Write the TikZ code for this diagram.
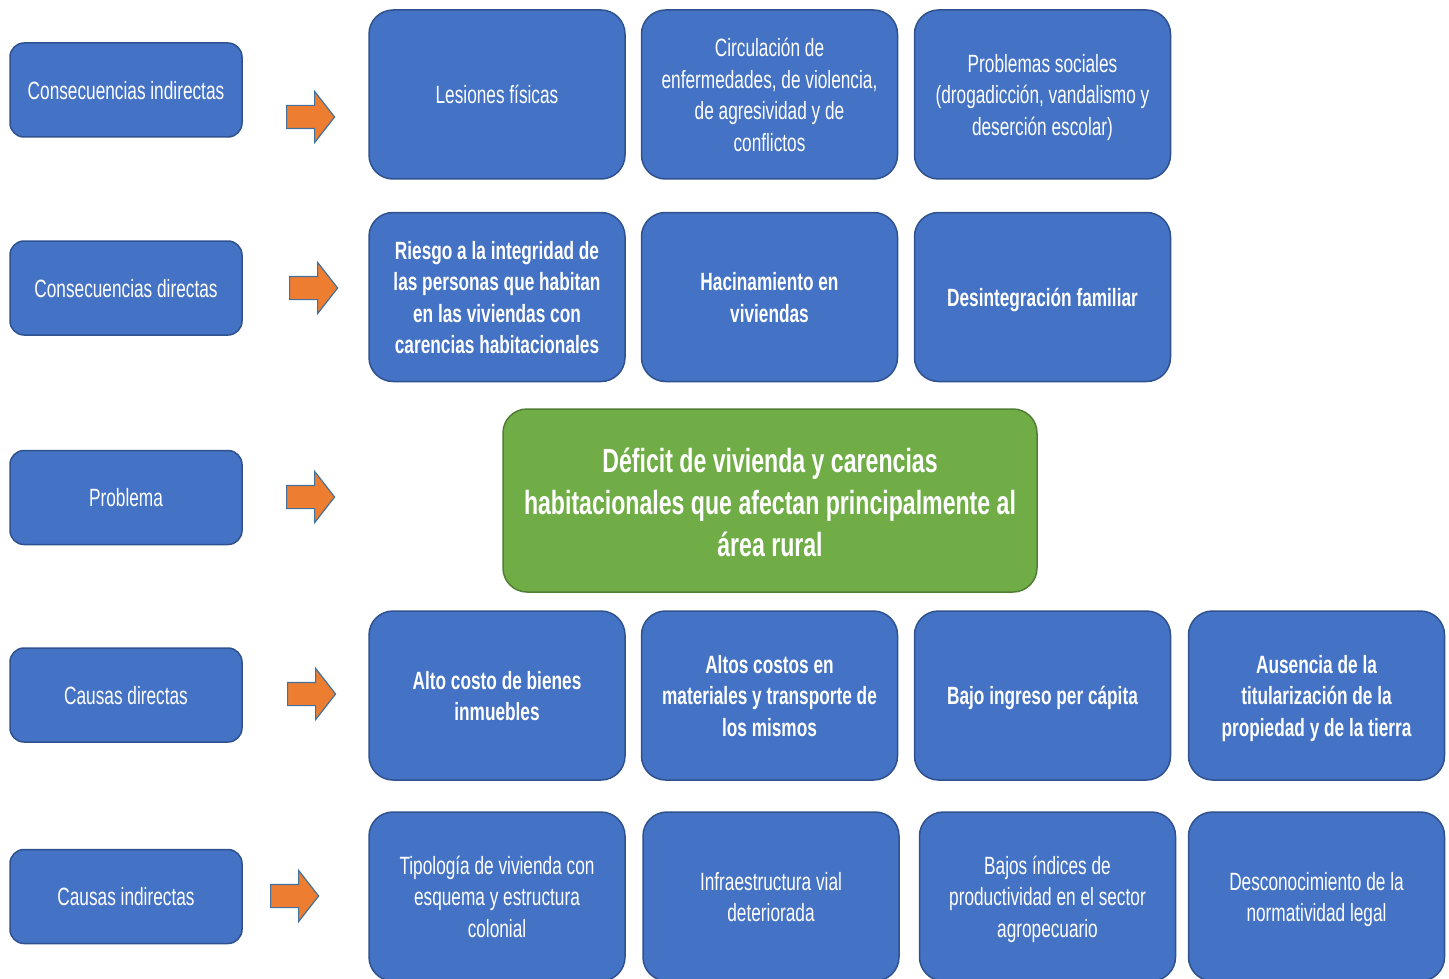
\documentclass[tikz,border=0pt]{standalone}
\usepackage{fontspec}
\setmainfont{Liberation Sans}[FakeStretch=0.69]
\usetikzlibrary{shapes.arrows}
\definecolor{boxblue}{HTML}{4472C4}
\definecolor{boxline}{HTML}{2F528F}
\definecolor{goalgreen}{HTML}{70AD47}
\definecolor{goalline}{HTML}{507E32}
\definecolor{arroworange}{HTML}{ED7D31}
\definecolor{arrowline}{HTML}{41719C}
% centred block of lines, lowered without changing its box
\newcommand\lbl[2][3pt]{\raisebox{-#1}[\height][\depth]{\begin{tabular}{@{}c@{}}#2\end{tabular}}}
\begin{document}
\begin{tikzpicture}[x=1pt,y=-1pt,
  base/.style={rounded corners=24pt, line width=1.5pt, draw=boxline, fill=boxblue, text=white, align=center, inner sep=0pt, font=\fontsize{25}{31.5}\selectfont},
  side/.style={base, rounded corners=14pt, minimum width=232pt, minimum height=94pt},
  cell/.style={base, minimum width=256pt, minimum height=169pt},
  bcell/.style={cell, font=\fontsize{25}{31.5}\selectfont\bfseries},
  goal/.style={base, fill=goalgreen, draw=goalline, minimum width=534pt, minimum height=183pt, font=\fontsize{33.5}{42}\selectfont\bfseries},
  pointer/.style={single arrow, draw=arrowline, fill=arroworange, line width=1.2pt, minimum height=48pt, minimum width=50pt, inner xsep=0pt, inner ysep=11pt, single arrow head extend=14pt, single arrow tip angle=104, anchor=west}
]
\useasboundingbox (0,0) rectangle (1449,979);

% left labels
\node[side] (l1) at (126,90) {\lbl{Consecuencias indirectas}};
\node[side] (l2) at (126,288) {\lbl{Consecuencias directas}};
\node[side] (l3) at (126,497.5) {\lbl{Problema}};
\node[side] (l4) at (126,695) {\lbl{Causas directas}};
\node[side] (l5) at (126,896.5) {\lbl{Causas indirectas}};

% arrows
\node[pointer] (p1) at (286,117) {};
\node[pointer] (p2) at (289,288) {};
\node[pointer] (p3) at (286,497) {};
\node[pointer] (p4) at (287,694) {};
\node[pointer] (p5) at (270,896) {};

% row 1
\node[cell] (c11) at (497,94.5) {\lbl{Lesiones físicas}};
\node[cell] (c12) at (769.5,94.5) {\lbl{Circulación de\\enfermedades, de violencia,\\de agresividad y de\\conflictos}};
\node[cell] (c13) at (1042.5,94.5) {\lbl{Problemas sociales\\(drogadicción, vandalismo y\\deserción escolar)}};

% row 2
\node[bcell] (c21) at (497,297) {\lbl{Riesgo a la integridad de\\las personas que habitan\\en las viviendas con\\carencias habitacionales}};
\node[bcell] (c22) at (769.5,297) {\lbl{Hacinamiento en\\viviendas}};
\node[bcell] (c23) at (1042.5,297) {\lbl{Desintegración familiar}};

% problem
\node[goal] (g) at (770,500.5) {\lbl[6pt]{Déficit de vivienda y carencias\\habitacionales que afectan principalmente al\\área rural}};

% row 4
\node[bcell] (c41) at (497,695.5) {\lbl{Alto costo de bienes\\inmuebles}};
\node[bcell] (c42) at (769.5,695.5) {\lbl{Altos costos en\\materiales y transporte de\\los mismos}};
\node[bcell] (c43) at (1042.5,695.5) {\lbl{Bajo ingreso per cápita}};
\node[bcell] (c44) at (1316.5,695.5) {\lbl{Ausencia de la\\titularización de la\\propiedad y de la tierra}};

% row 5
\node[cell] (c51) at (497,896.5) {\lbl{Tipología de vivienda con\\esquema y estructura\\colonial}};
\node[cell] (c52) at (771,896.5) {\lbl{Infraestructura vial\\deteriorada}};
\node[cell] (c53) at (1047.5,896.5) {\lbl{Bajos índices de\\productividad en el sector\\agropecuario}};
\node[cell] (c54) at (1316.5,896.5) {\lbl{Desconocimiento de la\\normatividad legal}};
\end{tikzpicture}
\end{document}
